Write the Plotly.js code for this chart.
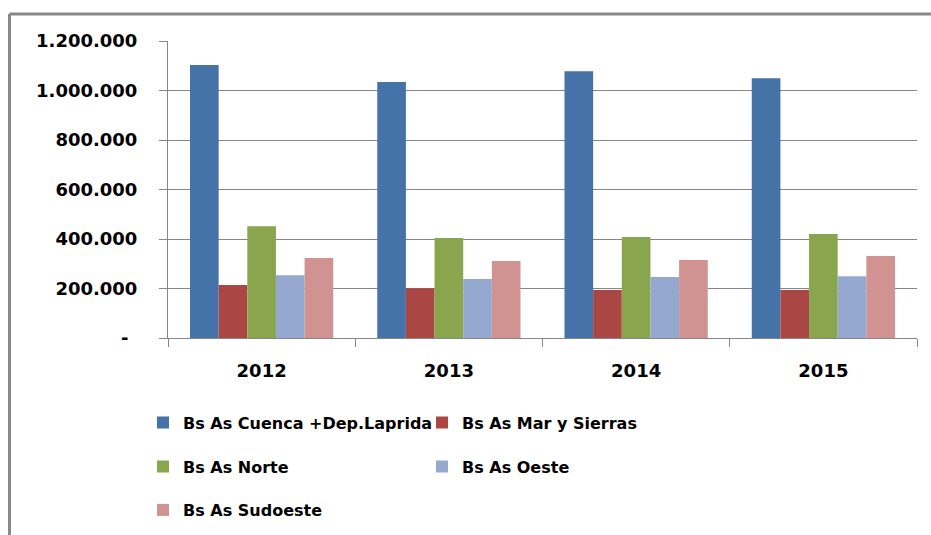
<!DOCTYPE html>
<html>
<head>
<meta charset="utf-8">
<script src="https://cdn.plot.ly/plotly-3.0.1.min.js"></script>
<style>html,body{margin:0;padding:0;background:#fff;}#chart{width:931px;height:535px;}</style>
</head>
<body>
<div id="chart"></div>
<script>
const years = ["2012", "2013", "2014", "2015"];
const seriesNames = ["Bs As Cuenca +Dep.Laprida", "Bs As Mar y Sierras", "Bs As Norte", "Bs As Oeste", "Bs As Sudoeste"];
const cuenca = [1103000, 1034000, 1078000, 1050000];
const marSierras = [214000, 201000, 194000, 194000];
const norte = [452000, 404000, 408000, 420000];
const oeste = [254000, 238000, 246000, 250000];
const sudoeste = [323000, 311000, 315000, 331000];
const yTickVals = [0, 200000, 400000, 600000, 800000, 1000000, 1200000];
const yTickText = ["-\u2002", "200.000", "400.000", "600.000", "800.000", "1.000.000", "1.200.000"];

const values = [cuenca, marSierras, norte, oeste, sudoeste];
const colors = ["#4572A7", "#AA4643", "#89A54E", "#95A9D0", "#D09392"];
const legendIds = ["legend", "legend", "legend2", "legend2", "legend3"];

const W = 931, H = 535;
const M = {l: 168, r: 14, t: 41, b: 197};
const pw = W - M.l - M.r, ph = H - M.t - M.b;
const px = x => (x - M.l) / pw;
const py = y => 1 - (y - M.t) / ph;

const font = "DejaVu Sans, sans-serif";
const traces = values.map((v, i) => ({
  type: "bar",
  name: seriesNames[i],
  x: years,
  y: v,
  marker: {color: colors[i], line: {width: 0}},
  legend: legendIds[i]
}));

const legendBase = (yPix) => ({
  orientation: "h",
  xref: "container",
  yref: "container",
  x: 143 / W,
  xanchor: "left",
  y: 1 - yPix / H,
  yanchor: "middle",
  entrywidth: 234,
  entrywidthmode: "pixels",
  itemwidth: 30,
  font: {family: font, size: 16, color: "#000", weight: "bold"},
  bgcolor: "rgba(0,0,0,0)",
  traceorder: "normal"
});

const layout = {
  width: W, height: H,
  margin: M,
  paper_bgcolor: "#fff",
  plot_bgcolor: "#fff",
  barmode: "group",
  bargap: 0.235,
  bargroupgap: 0,
  showlegend: true,
  legend: legendBase(422.5),
  legend2: legendBase(466.5),
  legend3: legendBase(510),
  xaxis: {
    type: "category",
    showline: true, linecolor: "#868686", linewidth: 1,
    ticks: "outside", tickson: "boundaries", ticklen: 8, tickcolor: "#868686", tickwidth: 1,
    tickfont: {family: font, size: 18, color: "#000", weight: "bold"},
    ticklabelstandoff: 16,
    showgrid: false
  },
  yaxis: {
    range: [0, 1200000],
    tickvals: yTickVals, ticktext: yTickText,
    showline: true, linecolor: "#868686", linewidth: 1,
    ticks: "outside", ticklen: 8, tickcolor: "#868686", tickwidth: 1,
    showgrid: true, gridcolor: "#868686", gridwidth: 1,
    zeroline: false,
    tickfont: {family: font, size: 18, color: "#000", weight: "bold"},
    ticklabelstandoff: 18
  },
  shapes: [
    {type: "line", xref: "paper", yref: "paper", x0: px(9.5), x1: px(931), y0: py(14), y1: py(14), line: {color: "#888", width: 3}},
    {type: "line", xref: "paper", yref: "paper", x0: px(9.5), x1: px(9.5), y0: py(14), y1: py(535), line: {color: "#888", width: 3}}
  ]
};

Plotly.newPlot("chart", traces, layout, {displayModeBar: false, staticPlot: true});
</script>
</body>
</html>
